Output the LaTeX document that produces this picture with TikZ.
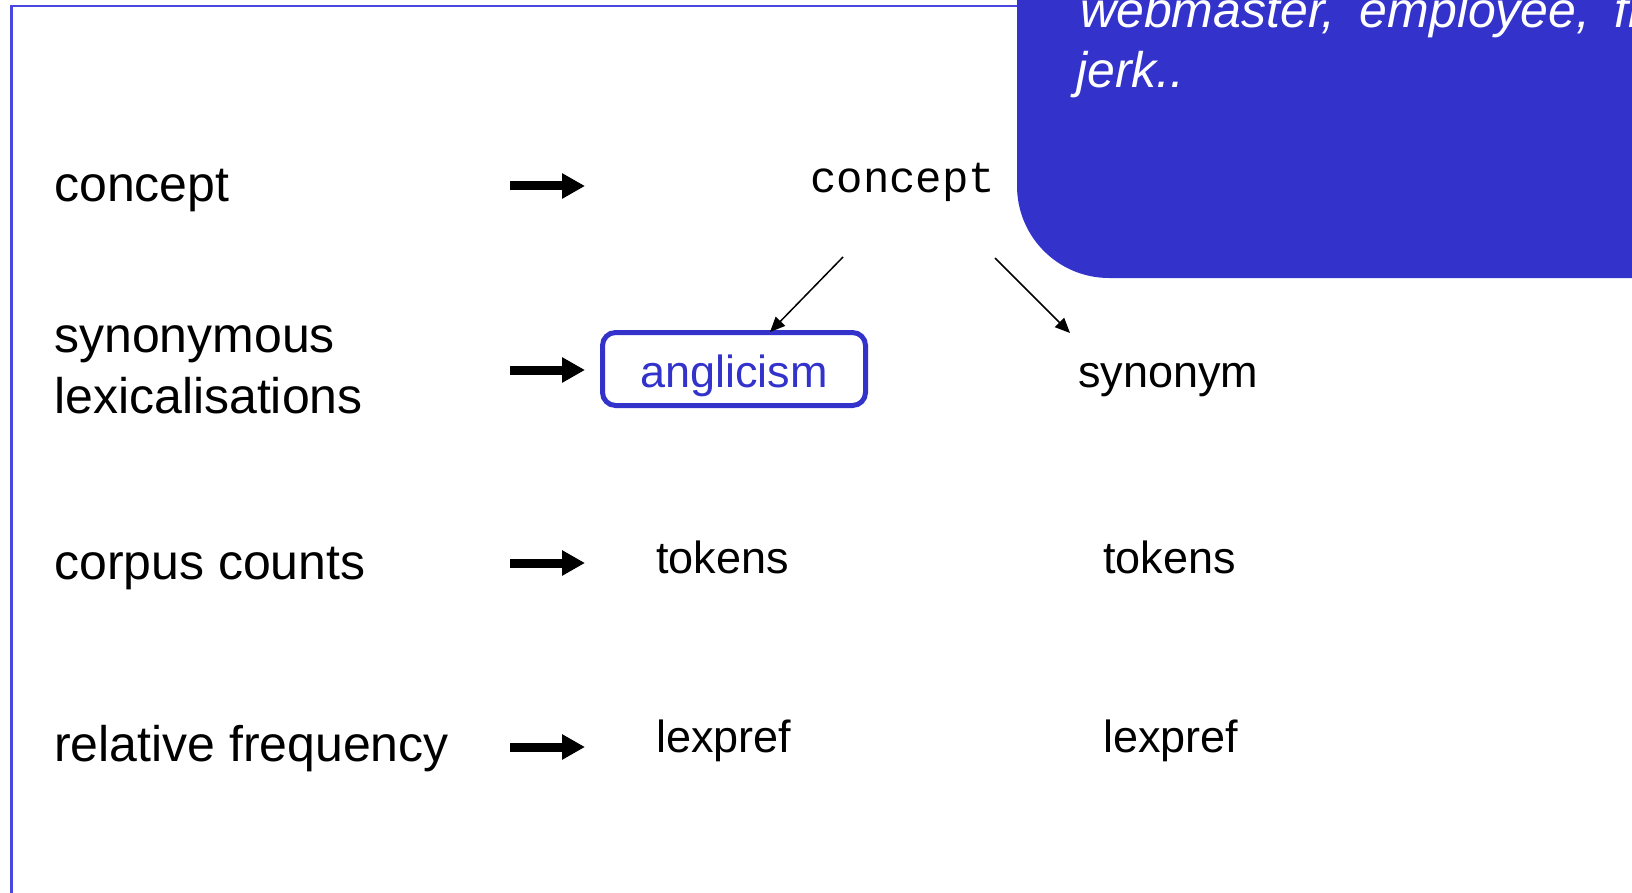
\documentclass[tikz,border=0pt]{standalone}
\usepackage{fontspec}
\setmainfont{Liberation Sans}
\newfontfamily\codefont{Liberation Mono}
\usetikzlibrary{arrows.meta}
\definecolor{boxblue}{RGB}{51,51,204}
\definecolor{frameblue}{RGB}{72,72,222}
\begin{document}
\begin{tikzpicture}[x=1pt,y=-1pt,
  rowlabel/.style={anchor=base west, inner sep=0pt, font=\fontsize{50}{57.5}\selectfont},
  cell/.style={anchor=base west, inner sep=0pt, font=\fontsize{45}{52}\selectfont},
  bigarrow/.style={line width=9pt, -{Triangle[length=23pt,width=24pt]}},
  thinarrow/.style={line width=1.5pt, -{Triangle[length=15pt,width=13pt]}},
  note/.style={anchor=base west, inner sep=0pt, text=white,
    font=\fontsize{50}{60}\selectfont\itshape}]
\useasboundingbox (0,0) rectangle (1632,893);
\clip (0,0) rectangle (1632,893);

% slide frame
\draw[frameblue, line width=2.3pt] (11.5,1000) -- (11.5,6) -- (1200,6);

% callout box in the upper right corner
\fill[boxblue, rounded corners=92pt] (1017,-300) rectangle (1900,278);
\node[note] (line1) at (1080,28) {\spaceskip=24pt webmaster, employee, fr};
\node[note] (line2) at (1076,88) {jerk..};

% row labels
\node[rowlabel] (lconcept) at (54,202) {concept};
\node[rowlabel] (lsyn) at (54,352) {synonymous};
\node[rowlabel] (llex) at (54,413) {lexicalisations};
\node[rowlabel] (lcorpus) at (54,579) {corpus counts};
\node[rowlabel] (lfreq) at (54,761) {relative frequency};

% row arrows
\coordinate (a1s) at (510,186); \coordinate (a1e) at (585,186);
\coordinate (a2s) at (510,370); \coordinate (a2e) at (585,370);
\coordinate (a3s) at (510,563); \coordinate (a3e) at (585,563);
\coordinate (a4s) at (510,747); \coordinate (a4e) at (585,747);
\draw[bigarrow] (a1s) -- (a1e);
\draw[bigarrow] (a2s) -- (a2e);
\draw[bigarrow] (a3s) -- (a3e);
\draw[bigarrow] (a4s) -- (a4e);

% concept and its lexicalisations
\node[anchor=base west, inner sep=0pt, font=\codefont\fontsize{44}{50}\selectfont]
  (concept) at (810,193) {concept};
\node[draw=boxblue, line width=5pt, rounded corners=13pt, text=boxblue,
  minimum width=263pt, minimum height=73pt, inner sep=0pt,
  text height=36pt, text depth=0pt, font=\fontsize{45}{52}\selectfont]
  (angl) at (734,369) {anglicism};
\node[cell] (syn) at (1078,387) {synonym};

\coordinate (c1s) at (843,257); \coordinate (c1e) at (770,332);
\coordinate (c2s) at (995,258); \coordinate (c2e) at (1070,333);
\draw[thinarrow] (c1s) -- (c1e);
\draw[thinarrow] (c2s) -- (c2e);

% counts and preferences
\node[cell] (tok1) at (656,573) {tokens};
\node[cell] (tok2) at (1103,573) {tokens};
\node[cell] (lex1) at (656,752) {lexpref};
\node[cell] (lex2) at (1103,752) {lexpref};
\end{tikzpicture}
\end{document}
